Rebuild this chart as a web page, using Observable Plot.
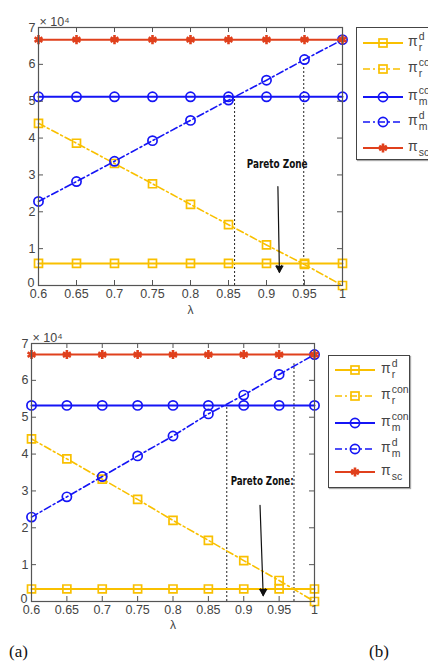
<!DOCTYPE html>
<html><head><meta charset="utf-8">
<script src="https://cdn.jsdelivr.net/npm/d3@7"></script>
<script src="https://cdn.jsdelivr.net/npm/@observablehq/plot@0.6"></script>
<style>
html,body{margin:0;padding:0;background:#fff;overflow:hidden;}
#wrap{position:relative;width:428px;height:669px;overflow:hidden;font-family:"Liberation Sans",Arial,sans-serif;}
.panel{position:absolute;left:0;}
.legend{position:absolute;border:1px solid #444;background:#fff;box-shadow:1px 1px 1px #aaa;}
.entry{position:absolute;left:0;height:24px;}
.entry svg{position:absolute;left:6px;top:0;}
.lab{position:absolute;top:1px;font-size:14px;color:#444;white-space:nowrap;}
.ss{display:inline-block;vertical-align:middle;line-height:10.5px;font-size:10.5px;margin-left:1px;position:relative;top:-1px;}
.ss span{display:block;}
.cap{position:absolute;font-family:"Liberation Serif","Times New Roman",serif;font-size:17px;color:#111;}
</style></head>
<body><div id="wrap"></div>
<script>
// ---- data (values in units of 10^4) ----
const lambda = [0.6, 0.65, 0.7, 0.75, 0.8, 0.85, 0.9, 0.95, 1];
const xTickLabels = ["0.6","0.65","0.7","0.75","0.8","0.85","0.9","0.95","1"];
const yTicks = [0,1,2,3,4,5,6,7];

// panel (a) / top
const a_rd   = [0.60,0.60,0.60,0.60,0.60,0.60,0.60,0.60,0.60];
const a_rcon = [4.40,3.86,3.31,2.76,2.20,1.65,1.10,0.57,0.00];
const a_mcon = [5.12,5.12,5.12,5.12,5.12,5.12,5.12,5.12,5.12];
const a_md   = [2.28,2.82,3.37,3.93,4.48,5.03,5.57,6.13,6.67];
const a_sc   = [6.67,6.67,6.67,6.67,6.67,6.67,6.67,6.67,6.67];
const a_paretoX = [0.858, 0.949];
const a_paretoTop = [5.10, 6.13];

// panel (b) / bottom
const b_rd   = [0.34,0.34,0.34,0.34,0.34,0.34,0.34,0.34,0.34];
const b_rcon = [4.41,3.87,3.32,2.77,2.20,1.66,1.11,0.57,0.00];
const b_mcon = [5.32,5.32,5.32,5.32,5.32,5.32,5.32,5.32,5.32];
const b_md   = [2.29,2.84,3.39,3.95,4.49,5.09,5.60,6.16,6.70];
const b_sc   = [6.70,6.70,6.70,6.70,6.70,6.70,6.70,6.70,6.70];
const b_paretoX = [0.876, 0.971];
const b_paretoTop = [5.32, 6.45];

const YEL = "#f9c000", BLU = "#1515f5", RED = "#e0401c";
const DASHDOT = "7,3,2,3";
const seriesMeta = [
  {key:"rd",   sup:"d",   sub:"r",  color:YEL, dash:null,    symbol:"square",   r:4.5},
  {key:"rcon", sup:"con", sub:"r",  color:YEL, dash:DASHDOT, symbol:"square",   r:4.5},
  {key:"mcon", sup:"con", sub:"m",  color:BLU, dash:null,    symbol:"circle",   r:4.6},
  {key:"md",   sup:"d",   sub:"m",  color:BLU, dash:DASHDOT, symbol:"circle",   r:4.6},
  {key:"sc",   sup:"",    sub:"sc", color:RED, dash:null,    symbol:"asterisk", r:4.3}
];

function makePanel(p) {
  const FW = 428 - p.ml - p.mr, FH = p.h - p.mt - p.mb;
  const vals = {rd:p.rd, rcon:p.rcon, mcon:p.mcon, md:p.md, sc:p.sc};
  const marks = [];
  marks.push(Plot.ruleX(p.paretoX.map((x,i)=>({x, top:p.paretoTop[i]})),
    {x:"x", y1:0, y2:"top", stroke:"#222", strokeWidth:1, strokeDasharray:"2,2"}));
  for (const s of seriesMeta) {
    const data = lambda.map((x,i)=>({x, y: vals[s.key][i]}));
    marks.push(Plot.line(data, {x:"x", y:"y", stroke:s.color, strokeWidth:s.dash?1.6:2, strokeDasharray:s.dash||undefined}));
    marks.push(Plot.dot(data, {x:"x", y:"y", symbol:s.symbol, r:s.r, stroke:s.color,
      strokeWidth: s.symbol==="asterisk"?2.6:1.7, fill: "none"}));
  }
  marks.push(Plot.arrow([p.arrow], {x1:"x1", y1:"y1", x2:"x2", y2:"y2", stroke:"#111", strokeWidth:1.2, headLength:9, headAngle:40}));
  marks.push(Plot.dot([p.arrow], {x:"x2", y:"y2", symbol:"triangle", rotate:180, r:3.2, fill:"#111", dy:-4}));
  marks.push(Plot.text([p.pareto], {x:"x", y:"y", text:"t", fontFamily:"'DejaVu Sans Condensed','Liberation Sans Narrow','DejaVu Sans',sans-serif",
    fontWeight:"bold", fontSize:13, fill:"#111", className:"pareto"}));
  marks.push(Plot.frame({stroke:"#555", strokeWidth:1.2}));
  marks.push(Plot.tickX(lambda, {x:d=>d, insetTop:FH-5, stroke:"#555"}));
  marks.push(Plot.tickX(lambda, {x:d=>d, insetBottom:FH-5, stroke:"#555"}));
  marks.push(Plot.tickY(yTicks, {y:d=>d, insetRight:FW-5, stroke:"#555"}));
  marks.push(Plot.tickY(yTicks, {y:d=>d, insetLeft:FW-5, stroke:"#555"}));
  marks.push(Plot.axisX(lambda, {tickSize:0, tickPadding:4, tickFormat:(d,i)=>xTickLabels[i], fill:"#444", label:null}));
  marks.push(Plot.axisY(yTicks.slice(1), {tickSize:0, tickPadding:3, fill:"#444", label:null}));
  marks.push(Plot.axisY([yTicks[0]], {tickSize:0, tickPadding:4, dy:-3, fill:"#444", label:null}));
  marks.push(Plot.text(["× 10⁴"], {frameAnchor:"top-left", text:d=>d, dy:-10, dx:1, fontSize:12.5, fill:"#444", textAnchor:"start"}));
  marks.push(Plot.text(["λ"], {frameAnchor:"bottom", text:d=>d, dy:p.lamDy, fontSize:12, fill:"#444"}));
  const svg = Plot.plot({
    width:428, height:p.h, marginLeft:p.ml, marginRight:p.mr, marginTop:p.mt, marginBottom:p.mb,
    x:{domain:[0.6,1]}, y:{domain:[0,7]},
    style:{fontFamily:"'Liberation Sans',Arial,sans-serif", fontSize:"12.5px", background:"white", overflow:"visible"},
    marks
  });
  svg.querySelectorAll(".pareto text").forEach(t => {
    t.setAttribute("textLength", p.pareto.w);
    t.setAttribute("lengthAdjust", "spacingAndGlyphs");
  });
  return svg;
}

function legend(left, top, width, rowTops, lineW, textLeft) {
  const box = document.createElement("div");
  box.className = "legend";
  box.style.left = left+"px"; box.style.top = top+"px";
  box.style.width = width+"px"; box.style.height = "131px";
  seriesMeta.forEach((s,i)=>{
    const e = document.createElement("div");
    e.className = "entry"; e.style.top = (rowTops[i]-12)+"px"; e.style.width = width+"px";
    const mx = lineW/2;
    let mk;
    if (s.symbol==="square") mk = `<rect x="${mx-4}" y="8" width="8" height="8" fill="none" stroke="${s.color}" stroke-width="1.7"/>`;
    else if (s.symbol==="circle") mk = `<circle cx="${mx}" cy="12" r="4.6" fill="none" stroke="${s.color}" stroke-width="1.7"/>`;
    else mk = `<path d="${d3.symbol(d3.symbolAsterisk, 55)()}" transform="translate(${mx},12)" stroke="${s.color}" stroke-width="2.6" fill="none"/>`;
    e.innerHTML = `<svg width="${lineW}" height="24"><line x1="0" x2="${lineW}" y1="12" y2="12" stroke="${s.color}" stroke-width="${s.dash?1.6:2}" ${s.dash?`stroke-dasharray="${s.dash}"`:""}/>${mk}</svg>`+
      `<span class="lab" style="left:${textLeft}px">π<span class="ss"><span>${s.sup||"&nbsp;"}</span><span>${s.sub}</span></span></span>`;
    box.appendChild(e);
  });
  return box;
}

const wrap = document.getElementById("wrap");
const p1 = makePanel({h:320, ml:38, mr:86, mt:27, mb:35, lamDy:28,
  rd:a_rd, rcon:a_rcon, mcon:a_mcon, md:a_md, sc:a_sc, paretoX:a_paretoX, paretoTop:a_paretoTop,
  arrow:{x1:0.915, y1:2.68, x2:0.917, y2:0.36}, pareto:{x:0.914, y:3.31, t:"Pareto Zone", w:61}});
p1.classList.add("panel"); p1.style.top = "0px";
wrap.appendChild(p1);
const p2 = makePanel({h:320, ml:31, mr:114, mt:23, mb:39, lamDy:27,
  rd:b_rd, rcon:b_rcon, mcon:b_mcon, md:b_md, sc:b_sc, paretoX:b_paretoX, paretoTop:b_paretoTop,
  arrow:{x1:0.923, y1:2.61, x2:0.9275, y2:0.16}, pareto:{x:0.926, y:3.28, t:"Pareto Zone:", w:63}});
p2.classList.add("panel"); p2.style.top = "320px";
wrap.appendChild(p2);

wrap.appendChild(legend(356, 27, 95, [15,41,69,94,120], 40, 51));
wrap.appendChild(legend(328, 355, 80, [14,40,67,93,116], 40, 52));

const ca = document.createElement("div"); ca.className="cap"; ca.textContent="(a)"; ca.style.left="9px"; ca.style.top="642px"; wrap.appendChild(ca);
const cb = document.createElement("div"); cb.className="cap"; cb.textContent="(b)"; cb.style.left="369px"; cb.style.top="642px"; wrap.appendChild(cb);
</script>
</body></html>
